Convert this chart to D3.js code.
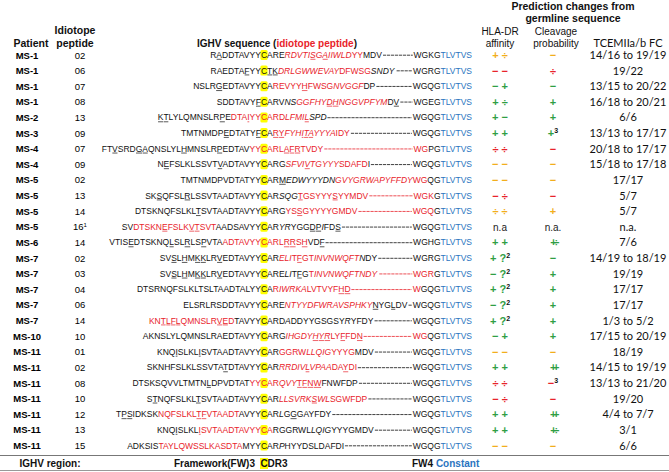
<!DOCTYPE html>
<html>
<head>
<meta charset="utf-8">
<script src="https://cdn.jsdelivr.net/npm/d3@7"></script>
<style>
  body { margin: 0; background: #fff; }
  svg { display: block; font-family: "Liberation Sans", Arial, sans-serif; }
</style>
</head>
<body>
<div id="chart"></div>
<script>
// Table data, one entry per row
const patients = ["MS-1", "MS-1", "MS-1", "MS-1", "MS-2", "MS-3", "MS-4", "MS-4", "MS-5", "MS-5", "MS-5", "MS-5", "MS-6",
    "MS-7", "MS-7", "MS-7", "MS-7", "MS-7", "MS-10", "MS-11", "MS-11", "MS-11", "MS-11", "MS-11", "MS-11", "MS-11"];
const peptides = ["02", "06", "07", "08", "13", "09", "07", "09", "02", "13", "14", "16", "14",
    "02", "03", "04", "06", "14", "10", "01", "02", "08", "10", "12", "13", "15"];
const peptideNotes = ["", "", "", "", "", "", "", "", "", "", "", "1", "", "", "", "", "", "", "", "", "", "", "", "", "", ""];

// sequence markup: { } red, / italic toggle, _ underline next, ^ highlighted C, ~ dash fill
const sequences = [
    "R_ADDTAVYY^CARE{/RDVTI_SG_AIIWLD/YY}MDV~WGKG",
    "RAEDTA_FYY^C_T_K{/DRLGWWEVAY/DFWSG}/SNDY/~WGRG",
    "NSLR_GEDTAVYY^CA{REVYY_HFWSG/NVGGF/}DP~WGQG",
    "SDDTAVY_F^CARV/NS{GGFHY_D_HNGGVPFYM}/D_V~WGEG",
    "_K_TLYLQMNSLR_PE{DTA_IYY^CARD/LFMI_L/}/SPD/~WGQG",
    "TMTNMDP_EDTATY_F^CA{_R_Y/FYH_I_T_AYYYA/IDY}~WGQG",
    "FT_VSRD_G_AQNSLYL_HMNSLR_PEDTAV{YY^CARL_A_F_RTVDY~WG}PG",
    "N_EFSLKLSSVT_VADTAVYY^CARG{/SFVI_VTGYYY/SDAFD}I~WGQG",
    "TMTNMDPVDTATYY^CAR_M/EDWYYYDN{GVYGRWAPYFFDY/~WG}QG",
    "SK_SQFSL_RLSSVTAADTAVYY^CAR/SQG/{_TGSYYY_SYYMDV~WGK}G",
    "DTSKNQFSLKL_TSVTAADTAVYY^CARG{YS_SGYYYYGMDV~WGQ}G",
    "SV{DTSKN_EFSLK_V_TSVT}AADSAVYY^CAR/YR/YGG_D_P/I/FD_S~WGQG",
    "VTIS_EDTSKNQ_LSL_RLS_PVTA{ADTAVYY^CARL_R_RS_H}VD_F~WGHG",
    "SV_SL_HM_K_KLR_VEDTAVYY^CAR{/ELI/T_FGT/INVNWQFT}N/DY~WGRG",
    "SV_SL_HM_K_KLR_VEDTAVYY^CARE/LI/T_FG{T/INVNWQFTNDY/~WGR}G",
    "DTSRNQFSLKLTSLTAADTALYY^CA{R/IWRKA/LVTVYF_H_D~W}GQG",
    "ELSRLRSDDTAVYY^CARE{/NTYYDFWRAVSPHKY/}_NYG_LDV~WGQG",
    "{KN_T_L_F_LQMNSLR_V_ED}TAVYY^CARD/A/DDYYGSGSY/R/YFDY~WGQG",
    "AKNSLYLQMNSLRAEDTAVYY^CARG{/IHGDY_H_Y_R/LY_FFD_N~WG}QG",
    "KNQ_ISLKL_ISVTAADTAVYY^CAR{GGRW/LLQIG/YYYG}MDV~WGQG",
    "SKNHFSLKLSSVTA_TDTAVYY^CAR{/RRDIV_LVPAA/DA_YDI}~WGQG",
    "DTSKSQVVLTMTN_LDPVDTAT{YY^CAR/QVY/_T_F_N_W}FNWFDP~WGQG",
    "S_TNQFSLKL_TSVTAADTAVYY^CAR{/LLSVRK_SWL/SGWFDP}~WGQG",
    "T_P_SIDKSK{NQFSLKL_T_FVTAADT}AVYY^CAR/L/G_GGAYFDY~WGQG",
    "KNQ_ISLKL{_ISVTAADTAVYY^CA}RGGRWL/LQIG/YYYGMDV~WGQG",
    "ADKSIS{TAYLQWSSLKASDTA}MYY^CAR/P/HYYDSLDAFDI~WGQG"
];
const constantRegion = "TLVTVS";

// prediction columns, ^ = superscript
const hlaAffinity = ["+ ÷", "− −", "− +", "+ ÷", "+ −", "+ +", "÷ ÷", "− −", "− −", "− ÷", "÷ ÷", "n.a", "+ +",
    "+ ?^2", "− ?^2", "+ ?^2", "− ?^2", "+ ?^2", "− +", "− −", "+ +", "÷ ÷", "− ÷", "+ +", "+ +", "− −"];
const hlaColor = ["o", "r", "g", "g", "g", "g", "r", "o", "o", "r", "o", "k", "g",
    "g", "g", "g", "g", "g", "g", "o", "g", "r", "r", "g", "g", "o"];
const cleavage = ["−", "÷", "−", "+", "+", "+^3", "−", "−", "−", "−", "+", "n.a.", "+÷",
    "−", "+", "+", "+", "+", "+", "−", "++", "−^3", "−", "++", "+÷", "−"];
const cleavageColor = ["o", "r", "g", "g", "g", "g", "r", "o", "o", "r", "o", "k", "g",
    "g", "g", "g", "g", "g", "g", "o", "g", "r", "r", "g", "g", "o"];
const tcemFC = ["14/16 to 19/19", "19/22", "13/15 to 20/22", "16/18 to 20/21", "6/6", "13/13 to 17/17",
    "20/18 to 17/17", "15/18 to 17/18", "17/17", "5/7", "5/7", "n.a.", "7/6", "14/19 to 18/19", "19/19",
    "17/17", "17/17", "1/3 to 5/2", "17/15 to 20/19", "18/19", "14/15 to 19/19", "13/13 to 21/20",
    "19/20", "4/4 to 7/7", "3/1", "6/6"];

const W = 669, H = 472;
const RED = "#e8232b", BLUE = "#2a74c0", YEL = "#ffff00";
const signColors = { o: "#f2ae1c", r: "#e8232b", g: "#2f9e44", k: "#222" };
const calibri = "Lato, 'Open Sans', sans-serif";

const col = { patient: 27, peptide: 80, cx: 264, seqEnd: 472, hla: 500, cleav: 553, tcem: 628 };

const svg = d3.select('#chart').append('svg')
    .attr('width', W)
    .attr('height', H);

const y = d3.scalePoint()
    .domain(d3.range(patients.length))
    .range([55, 445.6]);

// ---- headers
const hdr = svg.append('g').attr('font-weight', 'bold').attr('font-size', 10.5).attr('fill', '#111');
hdr.append('text').attr('x', 31).attr('y', 47).attr('text-anchor', 'middle').text('Patient');
hdr.append('text').attr('x', 75).attr('y', 34).attr('text-anchor', 'middle').text('Idiotope');
hdr.append('text').attr('x', 75).attr('y', 47).attr('text-anchor', 'middle').text('peptide');
const seqHead = hdr.append('text').attr('x', 277).attr('y', 47).attr('text-anchor', 'middle').attr('font-size', 10);
seqHead.append('tspan').text('IGHV sequence (');
seqHead.append('tspan').attr('fill', RED).text('idiotope peptide');
seqHead.append('tspan').text(')');
hdr.append('text').attr('x', 573).attr('y', 10).attr('text-anchor', 'middle').text('Prediction changes from');
hdr.append('text').attr('x', 573).attr('y', 22).attr('text-anchor', 'middle').text('germline sequence');

const sub = svg.append('g').attr('font-size', 10).attr('fill', '#111').attr('text-anchor', 'middle');
sub.append('text').attr('x', col.hla).attr('y', 35).text('HLA-DR');
sub.append('text').attr('x', col.hla).attr('y', 47).text('affinity');
sub.append('text').attr('x', col.cleav + 3).attr('y', 35).text('Cleavage');
sub.append('text').attr('x', col.cleav + 3).attr('y', 47).text('probability');
sub.append('text').attr('x', col.tcem).attr('y', 47).attr('font-family', calibri).attr('font-size', 11).text('TCEMIIa/b FC');

// ---- rows
const rows = svg.append('g').attr('class', 'rows');

patients.forEach((p, i) => {
    const yb = y(i) + 3.5;
    rows.append('text').attr('x', col.patient).attr('y', yb).attr('text-anchor', 'middle')
        .attr('font-weight', 'bold').attr('font-size', 9.5).text(p);
    const pep = rows.append('text').attr('x', col.peptide).attr('y', yb).attr('text-anchor', 'middle')
        .attr('font-size', 9.5).text(peptides[i]);
    if (peptideNotes[i]) pep.append('tspan').attr('font-size', 6).attr('dy', -3.5).text(peptideNotes[i]);
});

function parseSeq(s) {
    const toks = [];
    let red = false, it = false, ul = false, part = 0;
    for (const ch of s) {
        if (ch === '{') { red = true; continue; }
        if (ch === '}') { red = false; continue; }
        if (ch === '/') { it = !it; continue; }
        if (ch === '_') { ul = true; continue; }
        if (ch === '^') { part = 1; continue; }
        if (ch === '~') { toks.push({ fill: true, red: red }); part = 3; continue; }
        toks.push({ ch, red, it, ul, part, blue: false });
        ul = false;
        if (part === 1) part = 2;
    }
    return toks;
}

function tokColor(t) {
    return t.blue ? BLUE : (t.red ? RED : '#111');
}

// one <text> per part, runs of same style become tspans
function drawPart(g, toks, x, yb, anchor) {
    const t = g.append('text').attr('x', x).attr('y', yb).attr('text-anchor', anchor);
    let run = null;
    toks.forEach(tk => {
        const key = tokColor(tk) + (tk.it ? 'i' : 'n');
        if (!run || run.key !== key) {
            run = { key, text: '', color: tokColor(tk), it: tk.it };
            run.span = t.append('tspan').attr('fill', run.color).attr('font-style', tk.it ? 'italic' : null);
        }
        run.text += tk.ch;
        run.span.text(run.text);
    });
    toks.forEach((tk, idx) => {
        if (!tk.ul) return;
        const e = t.node().getExtentOfChar(idx);
        g.append('line')
            .attr('x1', e.x + 0.3).attr('x2', e.x + e.width - 0.3)
            .attr('y1', yb + 1.3).attr('y2', yb + 1.3)
            .attr('stroke', tokColor(tk)).attr('stroke-width', 0.7);
    });
    return t;
}

const seqG = rows.append('g').attr('font-size', 8.5);

sequences.forEach((s, i) => {
    const yb = y(i) + 3;
    const toks = parseSeq(s);
    const fillTok = toks.find(t => t.fill);
    const pre = toks.filter(t => !t.fill && t.part === 0);
    const cTok = toks.filter(t => !t.fill && t.part === 1);
    const mid = toks.filter(t => !t.fill && t.part === 2);
    const tail = toks.filter(t => !t.fill && t.part === 3)
        .concat(constantRegion.split('').map(ch => ({ ch, blue: true })));

    seqG.append('rect')
        .attr('x', col.cx - 3.6).attr('y', yb - 8)
        .attr('width', 7.2).attr('height', 10)
        .attr('rx', 1.5)
        .attr('fill', YEL);

    drawPart(seqG, pre, col.cx - 3.1, yb, 'end');
    drawPart(seqG, cTok, col.cx, yb, 'middle');
    const midT = drawPart(seqG, mid, col.cx + 3.1, yb, 'start');
    const tailT = drawPart(seqG, tail, col.seqEnd, yb, 'end');

    const b1 = midT.node().getBBox();
    const b2 = tailT.node().getBBox();
    const x1 = b1.x + b1.width + 0.8, x2 = b2.x - 0.8;
    if (x2 > x1) {
        seqG.append('line')
            .attr('x1', x1).attr('x2', x2)
            .attr('y1', yb - 2.8).attr('y2', yb - 2.8)
            .attr('stroke', fillTok && fillTok.red ? RED : '#111')
            .attr('stroke-width', 0.8)
            .attr('stroke-dasharray', '3.2,0.8');
    }
});

// prediction signs
function drawSign(str, colorKey, x, yb) {
    const [main, sup] = str.split('^');
    const isText = colorKey === 'k';
    const t = rows.append('text').attr('x', x).attr('y', yb).attr('text-anchor', 'middle')
        .attr('font-size', isText ? 10 : 11)
        .attr('font-weight', isText ? null : 'bold')
        .attr('fill', signColors[colorKey]);
    const m = t.append('tspan').text(main);
    if (main === '++' || main === '+÷') m.attr('letter-spacing', -3.5);
    if (sup) t.append('tspan').attr('font-size', 7).attr('font-weight', null).attr('fill', '#111')
        .attr('dy', -4).text(sup);
}

hlaAffinity.forEach((s, i) => drawSign(s, hlaColor[i], col.hla, y(i) + 4));
cleavage.forEach((s, i) => drawSign(s, cleavageColor[i], col.cleav, y(i) + 4));

rows.append('g')
    .attr('font-family', calibri).attr('font-size', 11).attr('text-anchor', 'middle').attr('fill', '#111')
    .selectAll('text')
    .data(tcemFC)
    .join('text')
    .attr('x', col.tcem)
    .attr('y', (d, i) => y(i) + 4)
    .text(d => d);

// ---- bottom legend row
const foot = svg.append('g').attr('font-weight', 'bold').attr('font-size', 10).attr('fill', '#111');
foot.append('line').attr('x1', 0).attr('x2', W).attr('y1', 455.5).attr('y2', 455.5)
    .attr('stroke', '#777').attr('stroke-width', 1.2);
foot.append('line').attr('x1', 0).attr('x2', W).attr('y1', 470.5).attr('y2', 470.5)
    .attr('stroke', '#999').attr('stroke-width', 1.2);
foot.append('text').attr('x', 50).attr('y', 467).attr('text-anchor', 'middle').text('IGHV region:');
foot.append('text').attr('x', col.cx - 9).attr('y', 467).attr('text-anchor', 'end').text('Framework(FW)3');
foot.append('rect').attr('x', col.cx - 4).attr('y', 458).attr('width', 8).attr('height', 11).attr('fill', YEL);
foot.append('text').attr('x', col.cx - 3.6).attr('y', 467).text('CDR3');
const fw4 = foot.append('text').attr('x', 412).attr('y', 467);
fw4.append('tspan').text('FW4 ');
fw4.append('tspan').attr('fill', BLUE).text('Constant');
</script>
</body>
</html>
